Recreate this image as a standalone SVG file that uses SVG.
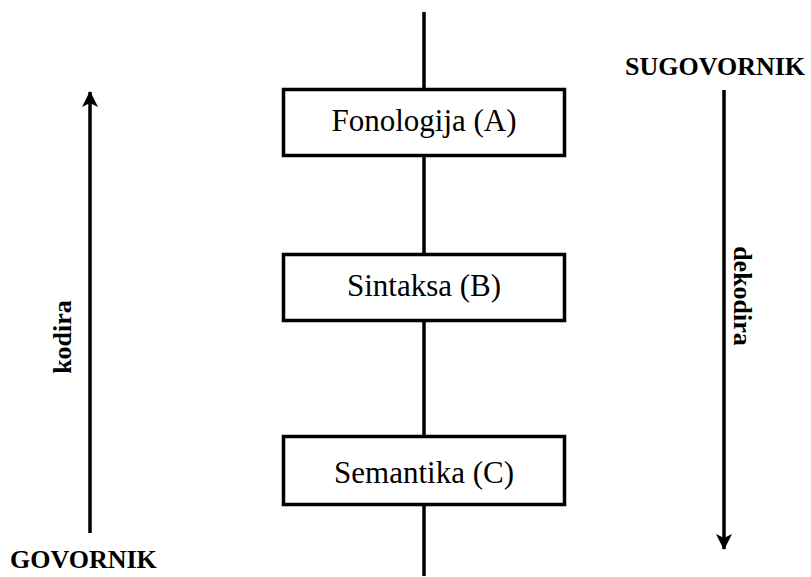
<svg xmlns="http://www.w3.org/2000/svg" width="811" height="577" viewBox="0 0 811 577">
<style>
.box{fill:#fff;stroke:#000;stroke-width:3.5}
.conn{stroke:#000;stroke-width:3.5;fill:none}
.lbl{font-family:"Liberation Serif","Times New Roman",serif;font-size:31px;fill:#000;text-anchor:middle}
.bold{font-family:"Liberation Serif","Times New Roman",serif;font-size:26px;font-weight:bold;fill:#000}
</style>
<defs>
<marker id="ah" markerUnits="userSpaceOnUse" markerWidth="16" markerHeight="16" viewBox="0 0 16 16" refX="15" refY="8" orient="auto">
<path d="M0,0 L16,8 L0,16 L4,8 Z" fill="#000"/>
</marker>
</defs>
<g id="connectors">
<line class="conn" x1="424" y1="12" x2="424" y2="89"/>
<line class="conn" x1="424" y1="156" x2="424" y2="254"/>
<line class="conn" x1="424" y1="321" x2="424" y2="436"/>
<line class="conn" x1="424" y1="505" x2="424" y2="576"/>
<line class="conn" x1="90" y1="533" x2="90" y2="92" marker-end="url(#ah)"/>
<line class="conn" x1="724" y1="90" x2="724" y2="549" marker-end="url(#ah)"/>
</g>
<g id="nodeA">
<rect class="box" x="283.5" y="89.5" width="281" height="66"/>
<text class="lbl" x="424" y="131">Fonologija (A)</text>
</g>
<g id="nodeB">
<rect class="box" x="283.5" y="254.5" width="281" height="66"/>
<text class="lbl" x="424" y="296">Sintaksa (B)</text>
</g>
<g id="nodeC">
<rect class="box" x="283.5" y="436.5" width="281" height="68"/>
<text class="lbl" x="424" y="483">Semantika (C)</text>
</g>
<g id="govornik">
<text class="bold" x="10" y="568">GOVORNIK</text>
</g>
<g id="sugovornik">
<text class="bold" x="625" y="75">SUGOVORNIK</text>
</g>
<g id="kodira">
<text class="bold" text-anchor="middle" transform="translate(71,337) rotate(-90)">kodira</text>
</g>
<g id="dekodira">
<text class="bold" text-anchor="middle" transform="translate(734,296) rotate(90)">dekodira</text>
</g>
</svg>
